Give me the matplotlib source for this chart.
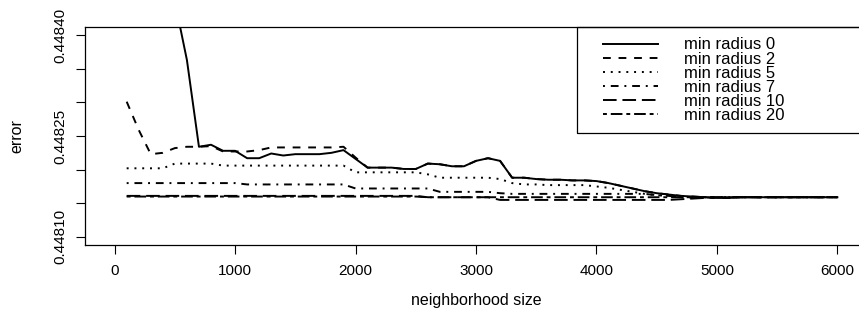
import numpy as np
import matplotlib
matplotlib.use("Agg")
import matplotlib.pyplot as plt
from matplotlib.patches import Rectangle

plt.rcParams['font.family'] = ['Liberation Sans', 'DejaVu Sans']
plt.rcParams['font.size'] = 11

# neighborhood sizes (100 .. 6000, step 100)
sizes = np.arange(100, 6001, 100)

err_r0 = [0.44900, 0.44880, 0.44866, 0.44855, 0.44845, 0.448363, 0.448234, 0.448237, 0.448228, 0.448228,
          0.448217, 0.448217, 0.448224, 0.448221, 0.448223, 0.448223, 0.448223, 0.448225, 0.448229, 0.448216,
          0.448203, 0.448203, 0.448203, 0.448201, 0.448201, 0.448209, 0.448208, 0.448205, 0.448205, 0.448213,
          0.448217, 0.448213, 0.448188, 0.448188, 0.448186, 0.448185, 0.448185, 0.448184, 0.448184, 0.448183,
          0.448180, 0.448176, 0.448172, 0.448168, 0.448165, 0.448163, 0.448161, 0.448160, 0.448159, 0.448158,
          0.448158, 0.448159, 0.448159, 0.448159, 0.448159, 0.448159, 0.448159, 0.448159, 0.448159, 0.448159]

err_r2 = [0.448301, 0.448259, 0.448223, 0.448225, 0.448232, 0.448234, 0.448234, 0.448235, 0.448227, 0.448227,
          0.448227, 0.448229, 0.448233, 0.448233, 0.448233, 0.448233, 0.448233, 0.448233, 0.448234, 0.448218,
          0.448203, 0.448203, 0.448203, 0.448201, 0.448201, 0.448209, 0.448208, 0.448205, 0.448205, 0.448213,
          0.448217, 0.448213, 0.448188, 0.448188, 0.448186, 0.448185, 0.448185, 0.448184, 0.448184, 0.448183,
          0.448180, 0.448176, 0.448172, 0.448168, 0.448165, 0.448163, 0.448161, 0.448160, 0.448159, 0.448158,
          0.448158, 0.448159, 0.448159, 0.448159, 0.448159, 0.448159, 0.448159, 0.448159, 0.448159, 0.448159]

err_r5 = [0.448202, 0.448202, 0.448202, 0.448202, 0.448209, 0.448209, 0.448209, 0.448209, 0.448206, 0.448206,
          0.448206, 0.448206, 0.448206, 0.448206, 0.448206, 0.448206, 0.448206, 0.448206, 0.448206, 0.448196,
          0.448196, 0.448196, 0.448196, 0.448196, 0.448196, 0.448193, 0.448188, 0.448188, 0.448188, 0.448188,
          0.448188, 0.448186, 0.448180, 0.448178, 0.448178, 0.448177, 0.448177, 0.448177, 0.448177, 0.448175,
          0.448173, 0.448170, 0.448167, 0.448164, 0.448162, 0.448161, 0.448159, 0.448159, 0.448159, 0.448159,
          0.448159, 0.448159, 0.448159, 0.448159, 0.448159, 0.448159, 0.448159, 0.448159, 0.448159, 0.448159]

err_r7 = [0.448180, 0.448180, 0.448180, 0.448180, 0.448180, 0.448180, 0.448180, 0.448180, 0.448180, 0.448180,
          0.448178, 0.448178, 0.448178, 0.448178, 0.448178, 0.448178, 0.448178, 0.448178, 0.448178, 0.448172,
          0.448172, 0.448172, 0.448172, 0.448172, 0.448172, 0.448172, 0.448167, 0.448167, 0.448167, 0.448167,
          0.448167, 0.448165, 0.448164, 0.448164, 0.448164, 0.448164, 0.448164, 0.448164, 0.448164, 0.448164,
          0.448164, 0.448164, 0.448164, 0.448164, 0.448162, 0.448161, 0.448159, 0.448159, 0.448159, 0.448159,
          0.448159, 0.448159, 0.448159, 0.448159, 0.448159, 0.448159, 0.448159, 0.448159, 0.448159, 0.448159]

err_r10 = [0.448161, 0.448161, 0.448161, 0.448161, 0.448161, 0.448161, 0.448161, 0.448161, 0.448161, 0.448161,
           0.448161, 0.448161, 0.448161, 0.448161, 0.448161, 0.448161, 0.448161, 0.448161, 0.448161, 0.448161,
           0.448161, 0.448161, 0.448161, 0.448161, 0.448161, 0.448159, 0.448159, 0.448159, 0.448159, 0.448159,
           0.448159, 0.448155, 0.448155, 0.448155, 0.448155, 0.448155, 0.448155, 0.448155, 0.448155, 0.448155,
           0.448155, 0.448155, 0.448155, 0.448155, 0.448155, 0.448155, 0.448156, 0.448157, 0.448158, 0.448159,
           0.448159, 0.448159, 0.448159, 0.448159, 0.448159, 0.448159, 0.448159, 0.448159, 0.448159, 0.448159]

err_r20 = [0.448160, 0.448160, 0.448160, 0.448160, 0.448160, 0.448160, 0.448160, 0.448160, 0.448160, 0.448160,
           0.448160, 0.448160, 0.448160, 0.448160, 0.448160, 0.448160, 0.448160, 0.448160, 0.448160, 0.448160,
           0.448160, 0.448160, 0.448160, 0.448160, 0.448160, 0.448159, 0.448159, 0.448159, 0.448159, 0.448159,
           0.448159, 0.448159, 0.448159, 0.448159, 0.448159, 0.448159, 0.448159, 0.448159, 0.448159, 0.448159,
           0.448159, 0.448159, 0.448159, 0.448159, 0.448159, 0.448159, 0.448159, 0.448159, 0.448159, 0.448159,
           0.448159, 0.448159, 0.448159, 0.448159, 0.448159, 0.448159, 0.448159, 0.448159, 0.448159, 0.448159]

series = [err_r0, err_r2, err_r5, err_r7, err_r10, err_r20]
labels = ["min radius 0", "min radius 2", "min radius 5",
          "min radius 7", "min radius 10", "min radius 20"]
# R lty 1..6
dashes = [None, (4, 4), (1, 3), (1, 3, 4, 3), (7, 3), (2, 2, 6, 2)]

W, H = 859, 329
fig = plt.figure(figsize=(W / 100, H / 100), dpi=100)
ax = fig.add_axes([85 / W, 84 / H, 782 / W, 218 / H])

for ys, lab, d in zip(series, labels, dashes):
    line, = ax.plot(sizes, ys, color="black", lw=1.4, label=lab)
    if d is not None:
        line.set_dashes(d)

ax.set_xlim(-246, 6246)
ax.set_ylim(0.448088, 0.448412)

ax.set_xticks(np.arange(0, 6001, 1000))
ax.set_xticklabels([str(v) for v in range(0, 6001, 1000)])
yt = [0.44810, 0.44815, 0.44820, 0.44825, 0.44830, 0.44835, 0.44840]
ax.set_yticks(yt)
ax.set_yticklabels(["0.44810", "", "", "0.44825", "", "", "0.44840"],
                   rotation=90, va="center")
ax.tick_params(axis="x", length=6.5, width=0.8, pad=7)
ax.tick_params(axis="y", length=6.5, width=0.8, pad=6)
for s in ax.spines.values():
    s.set_linewidth(0.9)

ax.set_xlabel("neighborhood size", fontsize=11.5)
ax.set_ylabel("error", fontsize=11.5)
ax.xaxis.set_label_coords(0.5, -0.255)
ax.xaxis.label.set_va("center")
ax.yaxis.set_label_coords(-0.087, 0.5)
ax.yaxis.label.set_va("center")

# legend box (R style, top right)
ax.add_patch(Rectangle((0.6292, 0.5138), 0.40, 0.4862, transform=ax.transAxes,
                       fill=False, lw=0.9, clip_on=False))
ax.legend(loc="upper left", bbox_to_anchor=(0.6624, 0.952), frameon=False,
          borderpad=0, borderaxespad=0, handlelength=3.3, handletextpad=1.55,
          labelspacing=-0.055, fontsize=12)

fig.savefig("out.png", dpi=100)
